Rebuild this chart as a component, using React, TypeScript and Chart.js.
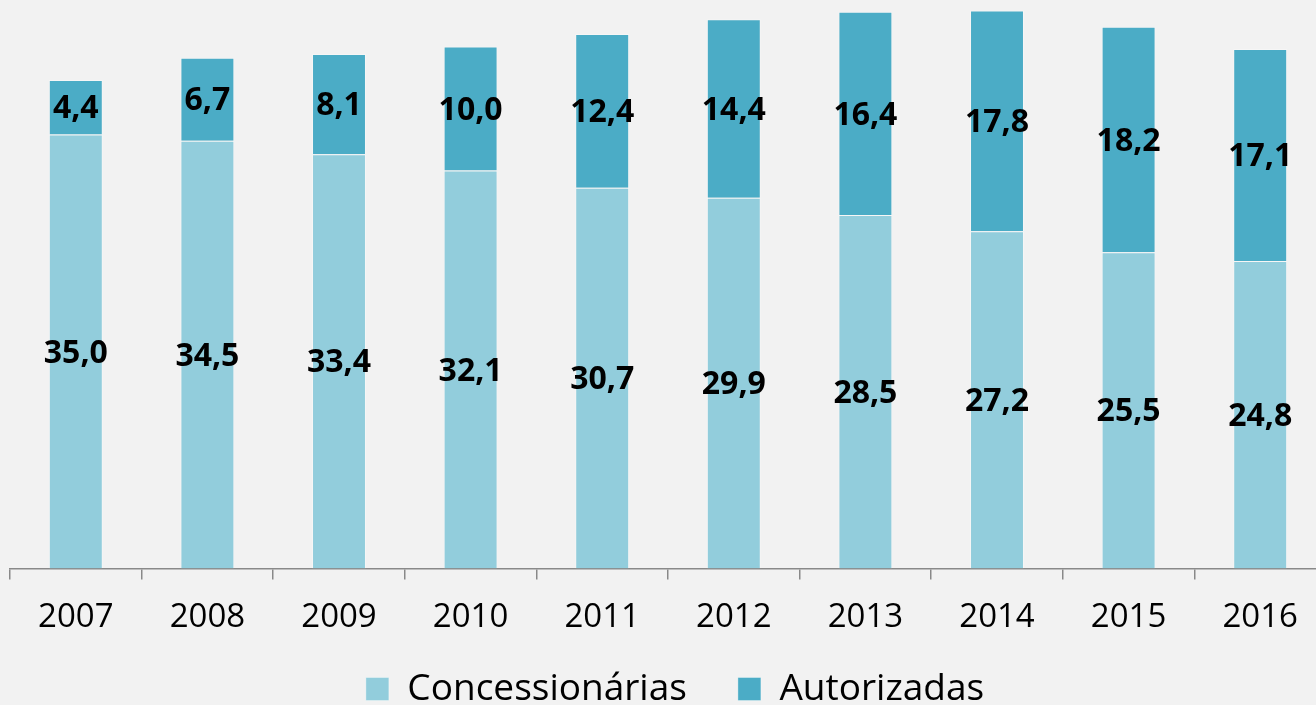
import React, { useEffect, useRef } from "react";
import { Chart, registerables } from "chart.js";

Chart.register(...registerables);

const categories = ["2007", "2008", "2009", "2010", "2011", "2012", "2013", "2014", "2015", "2016"];
const concessionarias = [35.0, 34.5, 33.4, 32.1, 30.7, 29.9, 28.5, 27.2, 25.5, 24.8];
const autorizadas = [4.4, 6.7, 8.1, 10.0, 12.4, 14.4, 16.4, 17.8, 18.2, 17.1];
const seriesNames = ["Concessionárias", "Autorizadas"];

const FONT = "'Open Sans', sans-serif";
const LEGEND_FONT = 37;
const LEGEND_PAD = 51;
const LEGEND_CENTER_Y = 689;
const LEGEND_SHIFT_X = 7;

const labelPlugin = {
  id: "segLabels",
  afterLayout(chart: any) {
    const lg = chart.legend;
    if (!lg) return;
    const cur = lg.top + LEGEND_PAD + LEGEND_FONT / 2;
    const d = cur - LEGEND_CENTER_Y;
    lg.top -= d;
    lg.bottom -= d;
    lg.left += LEGEND_SHIFT_X;
    lg.right += LEGEND_SHIFT_X;
  },
  afterDatasetsDraw(chart: any) {
    const ctx = chart.ctx;
    ctx.save();
    ctx.font = `bold 32px ${FONT}`;
    ctx.fillStyle = "#000";
    ctx.textAlign = "center";
    ctx.textBaseline = "middle";
    chart.data.datasets.forEach((ds: any, di: number) => {
      const meta = chart.getDatasetMeta(di);
      meta.data.forEach((el: any, i: number) => {
        const v = ds.data[i] as number;
        const y = (el.y + el.base) / 2 + 2;
        ctx.fillText(v.toFixed(1).replace(".", ","), el.x, y);
      });
    });
    ctx.restore();
  },
};

export default function App() {
  const ref = useRef<HTMLCanvasElement>(null);
  useEffect(() => {
    if (!ref.current) return;
    const chart = new Chart(ref.current, {
      type: "bar",
      data: {
        labels: categories,
        datasets: [
          {
            label: seriesNames[0],
            data: concessionarias,
            backgroundColor: "#92CDDC",
            borderColor: "rgba(255,255,255,0.35)",
            borderWidth: 1,
            categoryPercentage: 1,
            barPercentage: 0.41,
          },
          {
            label: seriesNames[1],
            data: autorizadas,
            backgroundColor: "#4BACC6",
            borderColor: "rgba(255,255,255,0.35)",
            borderWidth: 1,
            categoryPercentage: 1,
            barPercentage: 0.41,
          },
        ],
      },
      options: {
        animation: false,
        responsive: false,
        maintainAspectRatio: false,
        layout: { padding: { left: 10, right: 14, top: 0, bottom: -48 } },
        plugins: {
          legend: {
            position: "bottom",
            labels: {
              boxWidth: 23,
              boxHeight: 23,
              color: "#000",
              font: { family: FONT, size: LEGEND_FONT },
              padding: LEGEND_PAD,
            },
          },
          tooltip: { enabled: false },
        },
        scales: {
          x: {
            stacked: true,
            grid: {
              display: true,
              offset: true,
              drawOnChartArea: false,
              drawTicks: true,
              tickLength: 11,
              color: "#898989",
              lineWidth: 1.5,
            },
            border: { display: true, color: "#898989", width: 1.5 },
            ticks: {
              color: "#000",
              font: { family: FONT, size: 33 },
              padding: 18,
            },
          },
          y: {
            stacked: true,
            display: false,
            min: 0,
            max: 45.85,
          },
        },
      },
      plugins: [labelPlugin],
    });
    return () => chart.destroy();
  }, []);
  return (
    <div
      style={{
        position: "fixed",
        left: 0,
        top: 0,
        width: 1340,
        height: 705,
        background: "#f2f2f2",
      }}
    >
      <canvas ref={ref} width={1340} height={705} style={{ display: "block" }} />
    </div>
  );
}
